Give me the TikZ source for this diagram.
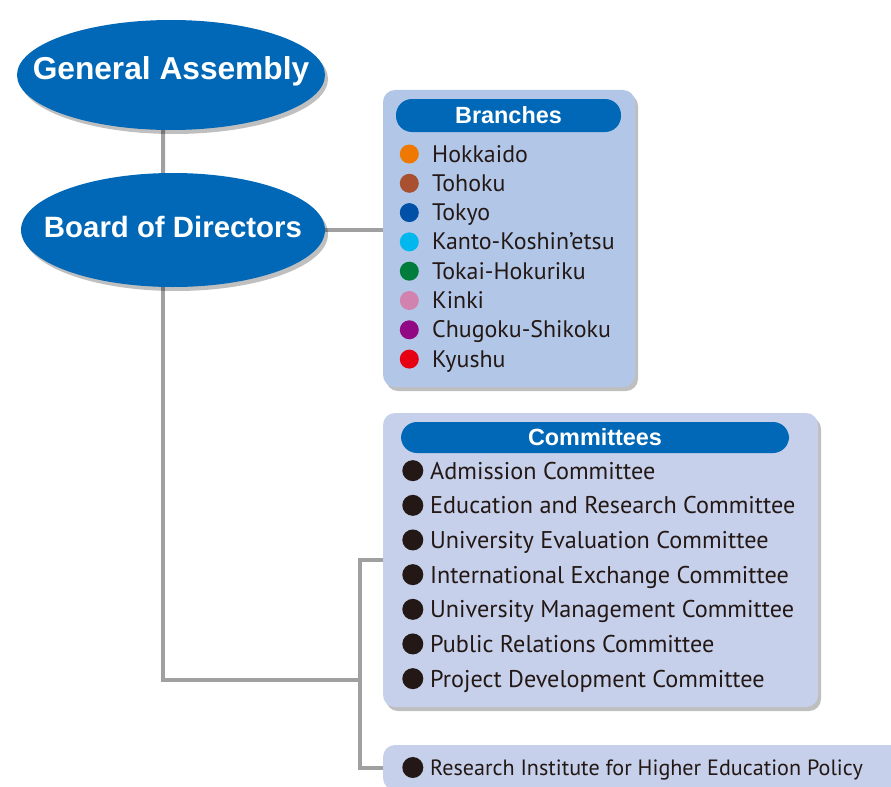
\documentclass[tikz,border=0pt]{standalone}
\usepackage{fontspec}
\setmainfont{PT Sans}
\newfontfamily\headfont{Liberation Sans}
\usetikzlibrary{shapes.geometric, shadows, backgrounds, positioning}

\definecolor{orgblue}{RGB}{0,104,183}
\definecolor{branchfill}{RGB}{178,199,231}
\definecolor{commfill}{RGB}{198,208,234}
\definecolor{linkgray}{RGB}{160,160,160}
\definecolor{ink}{RGB}{35,24,21}
\definecolor{cHokkaido}{RGB}{238,120,0}
\definecolor{cTohoku}{RGB}{168,80,48}
\definecolor{cTokyo}{RGB}{0,80,168}
\definecolor{cKanto}{RGB}{0,183,238}
\definecolor{cTokai}{RGB}{0,125,60}
\definecolor{cKinki}{RGB}{210,130,175}
\definecolor{cChugoku}{RGB}{146,7,131}
\definecolor{cKyushu}{RGB}{230,0,18}

\begin{document}
\begin{tikzpicture}[
        x=1bp, y=-1bp,
        softshadow/.style={drop shadow={shadow xshift=3bp, shadow yshift=-4bp, opacity=0.25, fill=black}},
        boss/.style={ellipse, fill=orgblue, inner sep=0pt, minimum width=308bp, softshadow},
        bosstext/.style={text=white, inner sep=0pt},
        panel/.style={rectangle, rounded corners=12bp, inner sep=0pt, softshadow},
        tab/.style={rectangle, rounded corners=16bp, fill=orgblue, text=white, inner sep=0pt,
            font=\headfont\bfseries\fontsize{23.5}{24}\selectfont, text height=16.8bp, text depth=0pt},
        branch/.style={anchor=base west, inner sep=0pt, text=ink, font=\fontsize{24}{25}\selectfont,
            text height=16bp, text depth=0pt,
            label={[circle, fill=#1, minimum size=19bp, inner sep=0pt, xshift=-13bp]left:{}}},
        member/.style={anchor=base west, inner sep=0pt, text=ink, font=\fontsize{24.3}{25}\selectfont,
            text height=16.7bp, text depth=0pt,
            label={[circle, fill=ink, minimum size=21bp, inner sep=0pt, xshift=-6.5bp]left:{}}},
        link/.style={draw=linkgray, line width=4bp}
    ]
        \useasboundingbox (0,0) rectangle (891,787);
        \clip (0,0) rectangle (891,787);

        % Governing bodies
        \node[boss, minimum height=110bp, label={[bosstext, font=\headfont\bfseries\fontsize{31.8}{32}\selectfont,
            text height=22bp, text depth=12bp]center:General Assembly}] (ga) at (171,75) {};
        \node[boss, minimum height=114bp, minimum width=304bp, label={[bosstext, font=\headfont\bfseries\fontsize{29.5}{30}\selectfont,
            text height=21bp, text depth=7bp]center:Board of Directors}] (bod) at (173,230) {};

        % Branches panel
        \node[panel, fill=branchfill, minimum width=252bp, minimum height=297bp] (br) at (509,238.5) {};
        \node[tab, minimum width=225bp, minimum height=33bp] (brhead) at (508.5,115.5) {Branches};
        \node[branch=cHokkaido] (hok) at (432,162) {Hokkaido};
        \node[branch=cTohoku] (toh) at (432,191.3) {Tohoku};
        \node[branch=cTokyo] (tky) at (432,220.6) {Tokyo};
        \node[branch=cKanto] (kan) at (432,249.9) {Kanto-Koshin\char"27 etsu};
        \node[branch=cTokai] (tok) at (432,279.2) {Tokai-Hokuriku};
        \node[branch=cKinki] (kin) at (432,308.5) {Kinki};
        \node[branch=cChugoku] (chu) at (432,337.8) {Chugoku-Shikoku};
        \node[branch=cKyushu] (kyu) at (432,367.1) {Kyushu};

        % Committees panel
        \node[panel, fill=commfill, minimum width=435bp, minimum height=294bp] (comm) at (600.5,560) {};
        \node[tab, minimum width=388bp, minimum height=31bp] (commhead) at (595,437.5) {Committees};
        \node[member] (adm) at (430,479) {Admission Committee};
        \node[member] (edu) at (430,513.7) {Education and Research Committee};
        \node[member] (eva) at (430,548.3) {University Evaluation Committee};
        \node[member] (intl) at (430,583) {International Exchange Committee};
        \node[member] (mgmt) at (430,617.7) {University Management Committee};
        \node[member] (pr) at (430,652.3) {Public Relations Committee};
        \node[member] (proj) at (430,687) {Project Development Committee};

        % Research institute
        \node[panel, fill=commfill, minimum width=540bp, minimum height=45bp] (res) at (653,767.5) {};
        \node[member, font=\fontsize{22.2}{23}\selectfont, text height=15bp] (rihe) at (430,775)
            {Research Institute for Higher Education Policy};

        % Connectors
        \coordinate (jn) at (360,680);
        \begin{scope}[on background layer]
            \draw[link] ([xshift=-8bp]ga.center) -- ([xshift=-10bp]bod.center);
            \draw[link] (bod) -- (bod -| br.west);
            \draw[link] ([xshift=-10bp]bod.center) |- (jn);
            \draw[link] (comm.west) -| (jn) |- (res.west);
        \end{scope}
    \end{tikzpicture}
\end{document}
